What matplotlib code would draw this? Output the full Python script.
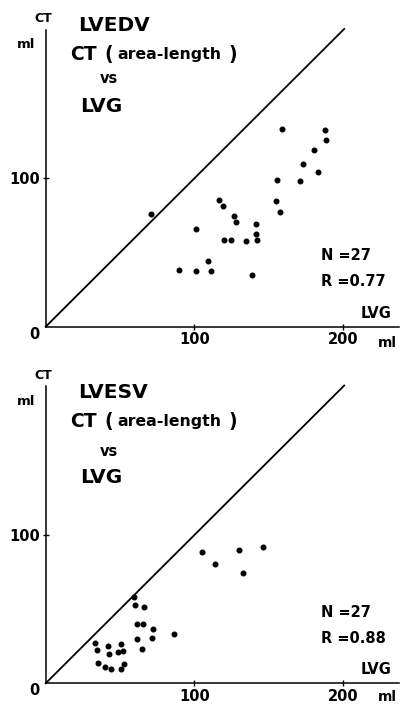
"""CT (area-length) vs LVG volume scatter, two stacked panels."""
import matplotlib

matplotlib.use("Agg")
import matplotlib.pyplot as plt

# LVEDV panel (ml)
edv_lvg = [71, 101, 89.5, 101, 109, 111.5, 116.5, 119.5, 120, 125, 126.5, 128,
           135, 141.5, 141.5, 142, 139, 159, 155.5, 155, 157.5, 173, 171.5,
           181, 183.5, 188, 188.5]
edv_ct = [75.8, 65.8, 38.5, 37.8, 44.3, 37.4, 85.0, 81.2, 58.6, 58.2, 74.5,
          70.5, 57.7, 68.9, 62.4, 58.2, 34.7, 132.9, 98.7, 84.8, 77.4, 109.4,
          98.0, 119.2, 104.5, 132.4, 125.5]

# LVESV panel (ml)
esv_lvg = [33, 34.8, 35.4, 39.9, 43.7, 41.9, 42.8, 48.4, 50.9, 52, 52.9, 50.9,
           59.4, 60.3, 66.1, 61.7, 65.5, 61.2, 64.6, 72.4, 71.7, 86.3, 105.4,
           114.1, 130, 133, 146]
esv_ct = [27.1, 22.3, 13.5, 10.8, 9.7, 25.3, 19.4, 21.0, 26.6, 21.7, 13.1, 9.5,
          57.8, 52.6, 51.5, 40.2, 40.2, 29.8, 23.3, 36.3, 30.7, 33.4, 88.7,
          80.6, 89.8, 74.5, 92.1]

panels = [
    dict(x=edv_lvg, y=edv_ct, title="LVEDV", n="N =27", r="R =0.77"),
    dict(x=esv_lvg, y=esv_ct, title="LVESV", n="N =27", r="R =0.88"),
]

W, H = 405, 704
fig = plt.figure(figsize=(W / 100, H / 100), dpi=100)

# axes origin in pixels, and pixels per ml
origins = [(45.7, 326.7), (45.7, 683.3)]
scale = 1.485
x_max, y_max = 238, 200

for i, (p, (ox, oy)) in enumerate(zip(panels, origins)):
    top = i == 0
    ax = fig.add_axes([ox / W, (H - oy) / H, x_max * scale / W, y_max * scale / H])
    ax.set_xlim(0, x_max)
    ax.set_ylim(0, y_max)
    for s in ("top", "right"):
        ax.spines[s].set_visible(False)
    for s in ("left", "bottom"):
        ax.spines[s].set_linewidth(1.1)
    ax.set_xticks([100, 200])
    ax.set_yticks([100])
    ax.tick_params(direction="inout", length=5, width=1, pad=1.5,
                   labelsize=10.5)
    for lab in ax.get_xticklabels() + ax.get_yticklabels():
        lab.set_fontweight("bold")

    ax.plot([0, 201], [0, 200.5], color="black", lw=1.3, clip_on=False)
    ax.plot(p["x"], p["y"], "o", color="black", ms=3.3, clip_on=False)

    kw = dict(fontweight="bold", clip_on=False, va="center")
    ax.text(-4, 0, "0", ha="right", va="top", fontsize=10.5,
            fontweight="bold")
    ax.text(-1.5, 207.5, "CT", ha="center", fontsize=9, **kw)
    ax.text(-13.5, 190, "ml", ha="center", fontsize=9.5, **kw)
    ax.text(21.5, 203 if top else 196, p["title"],
            ha="left", fontsize=14.5, **kw)
    sub_y = 183.6 if top else 176.6
    ax.text(16.3, sub_y, "CT", ha="left", fontsize=13.5, **kw)
    ax.text(39.5, sub_y, "(", ha="left", fontsize=13.5, **kw)
    ax.text(48.5, sub_y, "area-length", ha="left", fontsize=11.3, **kw)
    ax.text(123, sub_y, ")", ha="left", fontsize=13.5, **kw)
    ax.text(42.5, sub_y - 16.5 if top else sub_y - 20.5,
            "vs", ha="center", fontsize=10.5, **kw)
    ax.text(23, sub_y - 35 if top else sub_y - 38,
            "LVG", ha="left", fontsize=14.5, **kw)
    ax.text(185.5, 48, p["n"], ha="left", fontsize=10.5, **kw)
    ax.text(185.5, 30.5, p["r"], ha="left", fontsize=10.5, **kw)
    ax.text(212, 9, "LVG", ha="left", fontsize=10.5, **kw)
    ax.text(230, -11 if top else -9, "ml", ha="center", fontsize=10, **kw)

fig.savefig("out.png", dpi=100)
